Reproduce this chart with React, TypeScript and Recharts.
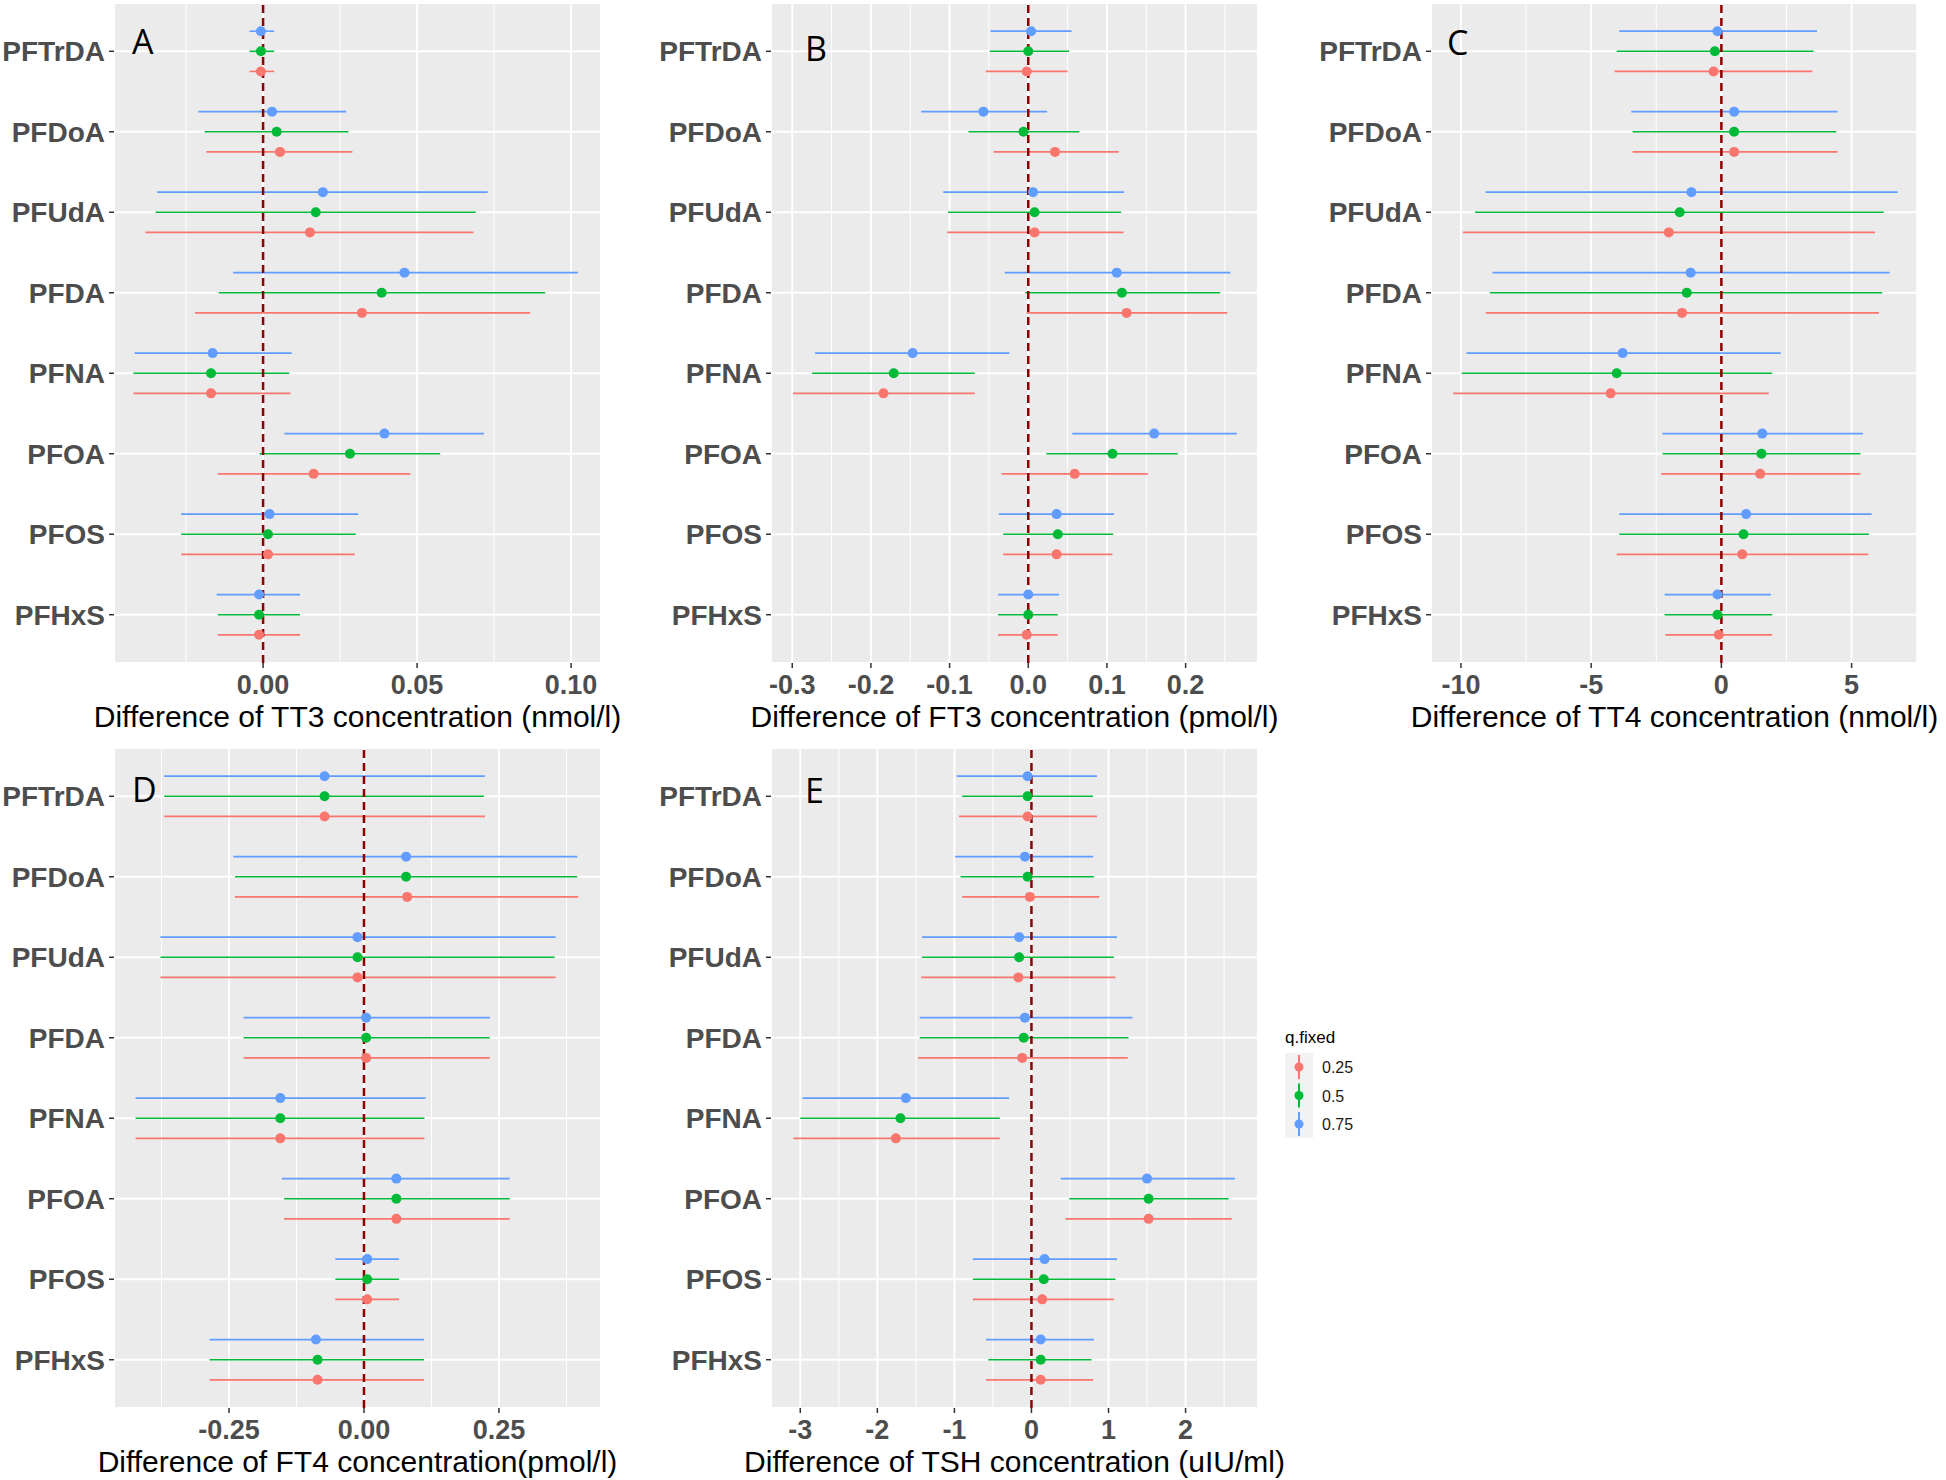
import React from "react";
import {
  ScatterChart,
  Scatter,
  XAxis,
  YAxis,
  CartesianGrid,
  ReferenceLine,
  ErrorBar,
} from "recharts";

// pollutants, listed from top to bottom of each panel
const analytes = ["PFTrDA", "PFDoA", "PFUdA", "PFDA", "PFNA", "PFOA", "PFOS", "PFHxS"];
const quantiles = ["0.25", "0.5", "0.75"];

// each row: [estimate, lower CI, upper CI]
type Est = [number, number, number];

// A - TT3 (nmol/l)
const tt3Q25: Est[] = [
  [-0.0007, -0.0044, 0.0036], [0.0055, -0.0184, 0.029], [0.0152, -0.0382, 0.0683], [0.0321, -0.0221, 0.0867],
  [-0.0169, -0.0421, 0.0089], [0.0164, -0.0147, 0.0478], [0.0016, -0.0266, 0.0298], [-0.0013, -0.0147, 0.012],
];
const tt3Q50: Est[] = [
  [-0.0007, -0.0044, 0.0036], [0.0044, -0.019, 0.0277], [0.0171, -0.0349, 0.069], [0.0385, -0.0144, 0.0916],
  [-0.0169, -0.0421, 0.0085], [0.0282, -0.0012, 0.0575], [0.0016, -0.0266, 0.0301], [-0.0013, -0.0147, 0.012],
];
const tt3Q75: Est[] = [
  [-0.0007, -0.0044, 0.0036], [0.0029, -0.021, 0.027], [0.0194, -0.0344, 0.0729], [0.0459, -0.0097, 0.1022],
  [-0.0164, -0.0417, 0.0093], [0.0394, 0.0069, 0.0717], [0.0021, -0.0266, 0.0309], [-0.0013, -0.0151, 0.012],
];

// B - FT3 (pmol/l)
const ft3Q25: Est[] = [
  [-0.002, -0.054, 0.05], [0.034, -0.044, 0.115], [0.008, -0.103, 0.121], [0.125, -0.002, 0.253],
  [-0.184, -0.299, -0.068], [0.059, -0.034, 0.152], [0.036, -0.032, 0.107], [-0.002, -0.0385, 0.0375],
];
const ft3Q50: Est[] = [
  [0.0, -0.049, 0.052], [-0.006, -0.076, 0.065], [0.008, -0.102, 0.118], [0.119, -0.004, 0.244],
  [-0.171, -0.275, -0.068], [0.107, 0.023, 0.19], [0.0375, -0.032, 0.108], [0.0, -0.0385, 0.0375],
];
const ft3Q75: Est[] = [
  [0.0036, -0.048, 0.055], [-0.057, -0.136, 0.024], [0.006, -0.108, 0.122], [0.1125, -0.03, 0.257],
  [-0.147, -0.271, -0.024], [0.16, 0.056, 0.265], [0.036, -0.0375, 0.109], [0.0, -0.0385, 0.039],
];

// C - TT4 (nmol/l)
const tt4Q25: Est[] = [
  [-0.3, -4.1, 3.49], [0.49, -3.41, 4.46], [-2.02, -9.92, 5.9], [-1.51, -9.05, 6.05],
  [-4.25, -10.3, 1.82], [1.49, -2.31, 5.34], [0.8, -4.02, 5.64], [-0.1, -2.15, 1.95],
];
const tt4Q50: Est[] = [
  [-0.25, -4.02, 3.54], [0.49, -3.41, 4.41], [-1.6, -9.46, 6.23], [-1.33, -8.89, 6.18],
  [-4.02, -9.97, 1.95], [1.54, -2.26, 5.34], [0.85, -3.92, 5.67], [-0.15, -2.18, 1.95],
];
const tt4Q75: Est[] = [
  [-0.15, -3.92, 3.67], [0.49, -3.46, 4.46], [-1.15, -9.05, 6.77], [-1.18, -8.79, 6.46],
  [-3.79, -9.79, 2.28], [1.57, -2.26, 5.44], [0.95, -3.92, 5.77], [-0.15, -2.18, 1.9],
];

// D - FT4 (pmol/l)
const ft4Q25: Est[] = [
  [-0.073, -0.37, 0.224], [0.08, -0.239, 0.397], [-0.012, -0.377, 0.355], [0.004, -0.223, 0.233],
  [-0.155, -0.423, 0.112], [0.06, -0.148, 0.27], [0.006, -0.053, 0.065], [-0.086, -0.286, 0.111],
];
const ft4Q50: Est[] = [
  [-0.073, -0.37, 0.222], [0.078, -0.239, 0.395], [-0.012, -0.377, 0.353], [0.004, -0.223, 0.233],
  [-0.155, -0.423, 0.112], [0.06, -0.148, 0.27], [0.006, -0.053, 0.065], [-0.086, -0.286, 0.111],
];
const ft4Q75: Est[] = [
  [-0.073, -0.37, 0.224], [0.078, -0.242, 0.395], [-0.012, -0.377, 0.355], [0.004, -0.223, 0.233],
  [-0.155, -0.423, 0.114], [0.06, -0.152, 0.27], [0.006, -0.053, 0.065], [-0.089, -0.286, 0.111],
];

// E - TSH (uIU/ml)
const tshQ25: Est[] = [
  [-0.05, -0.94, 0.85], [-0.02, -0.9, 0.88], [-0.17, -1.43, 1.09], [-0.12, -1.47, 1.25],
  [-1.76, -3.09, -0.41], [1.52, 0.44, 2.6], [0.14, -0.76, 1.07], [0.12, -0.59, 0.8],
];
const tshQ50: Est[] = [
  [-0.05, -0.9, 0.8], [-0.05, -0.92, 0.81], [-0.16, -1.42, 1.07], [-0.1, -1.45, 1.26],
  [-1.7, -3.0, -0.41], [1.52, 0.49, 2.56], [0.16, -0.76, 1.09], [0.12, -0.56, 0.78],
];
const tshQ75: Est[] = [
  [-0.05, -0.97, 0.85], [-0.085, -0.99, 0.8], [-0.16, -1.42, 1.11], [-0.085, -1.45, 1.31],
  [-1.63, -2.97, -0.29], [1.5, 0.38, 2.64], [0.17, -0.76, 1.11], [0.12, -0.59, 0.81],
];

// x axis breaks and labels
const tt3Ticks = [0, 0.05, 0.1];
const tt3Labels = ["0.00", "0.05", "0.10"];
const tt3Minor = [-0.025, 0.025, 0.075];
const ft3Ticks = [-0.3, -0.2, -0.1, 0, 0.1, 0.2];
const ft3Labels = ["-0.3", "-0.2", "-0.1", "0.0", "0.1", "0.2"];
const ft3Minor = [-0.25, -0.15, -0.05, 0.05, 0.15, 0.25];
const tt4Ticks = [-10, -5, 0, 5];
const tt4Labels = ["-10", "-5", "0", "5"];
const tt4Minor = [-7.5, -2.5, 2.5, 7.5];
const ft4Ticks = [-0.25, 0, 0.25];
const ft4Labels = ["-0.25", "0.00", "0.25"];
const ft4Minor = [-0.375, -0.125, 0.125, 0.375];
const tshTicks = [-3, -2, -1, 0, 1, 2];
const tshLabels = ["-3", "-2", "-1", "0", "1", "2"];
const tshMinor = [-2.5, -1.5, -0.5, 0.5, 1.5, 2.5];

const qColors = ["#F8766D", "#00BA38", "#619CFF"];
const qOffset = [0.25, 0, -0.25]; // 0.75 sits on top, 0.25 at the bottom
const FONT = "'Liberation Sans', Arial, sans-serif";

// the svg is wider than the plot so the long axis titles are not clipped
const CHART_W = 640;
const CHART_H = 735;

const Panel = (props: any) => {
  const { domain, ticks, labels, minor, title, series } = props;
  const yTicks = analytes.map((_, i) => i + 1);

  return (
    <ScatterChart
      width={CHART_W}
      height={CHART_H}
      margin={{ top: 3, right: 39, left: 0, bottom: 0 }}
    >
      <CartesianGrid fill="#EBEBEB" stroke="#FFFFFF" strokeWidth={2} />
      {minor.map((v: number) => (
        <ReferenceLine key={v} x={v} stroke="#FFFFFF" strokeWidth={1} />
      ))}
      <XAxis
        type="number"
        dataKey="x"
        domain={domain}
        allowDataOverflow
        ticks={ticks}
        interval={0}
        tickFormatter={(v: number) => labels[ticks.indexOf(v)] ?? ""}
        height={72}
        axisLine={false}
        tickSize={5}
        tickMargin={7}
        tickLine={{ stroke: "#333333", strokeWidth: 1.5 }}
        tick={{ fill: "#4D4D4D", fontSize: 27, fontWeight: "bold", fontFamily: FONT }}
        label={{
          value: title,
          position: "insideBottom",
          offset: 8,
          fill: "#000000",
          fontSize: 30,
          fontFamily: FONT,
        }}
      />
      <YAxis
        type="number"
        dataKey="y"
        domain={[0.4, 8.6]}
        reversed
        ticks={yTicks}
        interval={0}
        tickFormatter={(v: number) => analytes[v - 1]}
        width={114}
        axisLine={false}
        tickSize={5}
        tickMargin={4}
        tickLine={{ stroke: "#333333", strokeWidth: 1.5 }}
        tick={{ fill: "#4D4D4D", fontSize: 28, fontWeight: "bold", fontFamily: FONT }}
      />
      {series.map((rows: Est[], q: number) => (
        <Scatter
          key={quantiles[q]}
          name={quantiles[q]}
          isAnimationActive={false}
          data={rows.map((r, i) => ({
            x: r[0],
            y: i + 1 + qOffset[q],
            err: [r[0] - r[1], r[2] - r[0]],
          }))}
          fill={qColors[q]}
          shape={(s: any) => <circle cx={s.cx} cy={s.cy} r={5} fill={qColors[q]} />}
        >
          <ErrorBar dataKey="err" direction="x" width={0} stroke={qColors[q]} strokeWidth={1.6} />
        </Scatter>
      ))}
      <ReferenceLine x={0} stroke="#8B0000" strokeWidth={2.5} strokeDasharray="8 5" />
    </ScatterChart>
  );
};

const App = () => {
  return (
    <div style={{ position: "relative", width: 1946, height: 1480, overflow: "hidden", background: "#fff" }}>
      <style>{"body{margin:0;overflow:hidden}"}</style>

      <div style={{ position: "absolute", left: 0, top: 0 }}>
        <Panel domain={[-0.0484, 0.1097]} ticks={tt3Ticks} labels={tt3Labels} minor={tt3Minor}
          title="Difference of TT3 concentration (nmol/l)" series={[tt3Q25, tt3Q50, tt3Q75]} />
      </div>
      <div style={{ position: "absolute", left: 657, top: 0 }}>
        <Panel domain={[-0.327, 0.292]} ticks={ft3Ticks} labels={ft3Labels} minor={ft3Minor}
          title="Difference of FT3 concentration (pmol/l)" series={[ft3Q25, ft3Q50, ft3Q75]} />
      </div>
      <div style={{ position: "absolute", left: 1317, top: 0 }}>
        <Panel domain={[-11.15, 7.55]} ticks={tt4Ticks} labels={tt4Labels} minor={tt4Minor}
          title="Difference of TT4 concentration (nmol/l)" series={[tt4Q25, tt4Q50, tt4Q75]} />
      </div>
      <div style={{ position: "absolute", left: 0, top: 745 }}>
        <Panel domain={[-0.463, 0.439]} ticks={ft4Ticks} labels={ft4Labels} minor={ft4Minor}
          title="Difference of FT4 concentration(pmol/l)" series={[ft4Q25, ft4Q50, ft4Q75]} />
      </div>
      <div style={{ position: "absolute", left: 657, top: 745 }}>
        <Panel domain={[-3.38, 2.94]} ticks={tshTicks} labels={tshLabels} minor={tshMinor}
          title="Difference of TSH concentration (uIU/ml)" series={[tshQ25, tshQ50, tshQ75]} />
      </div>

      {/* panel letters and the shared legend */}
      <svg width={1946} height={1480} style={{ position: "absolute", left: 0, top: 0, pointerEvents: "none" }}>
        <g fontFamily="'Open Sans', sans-serif" fontSize={34} fill="#000">
          <text x={132} y={54}>A</text>
          <text x={805} y={61}>B</text>
          <text x={1447} y={55}>C</text>
          <text x={132} y={802}>D</text>
          <text x={805} y={803}>E</text>
        </g>
        <g fontFamily={FONT}>
          <text x={1285} y={1043} fontSize={17} fill="#000">q.fixed</text>
          <rect x={1285} y={1053} width={28} height={85} fill="#F2F2F2" />
          {quantiles.map((q, i) => {
            const cy = 1067 + i * 28.5;
            return (
              <g key={q}>
                <line x1={1299} x2={1299} y1={cy - 12} y2={cy + 12} stroke={qColors[i]} strokeWidth={2} />
                <circle cx={1299} cy={cy} r={4.5} fill={qColors[i]} />
                <text x={1322} y={cy + 6} fontSize={16} fill="#1A1A1A">{q}</text>
              </g>
            );
          })}
        </g>
      </svg>
    </div>
  );
};

export default App;
